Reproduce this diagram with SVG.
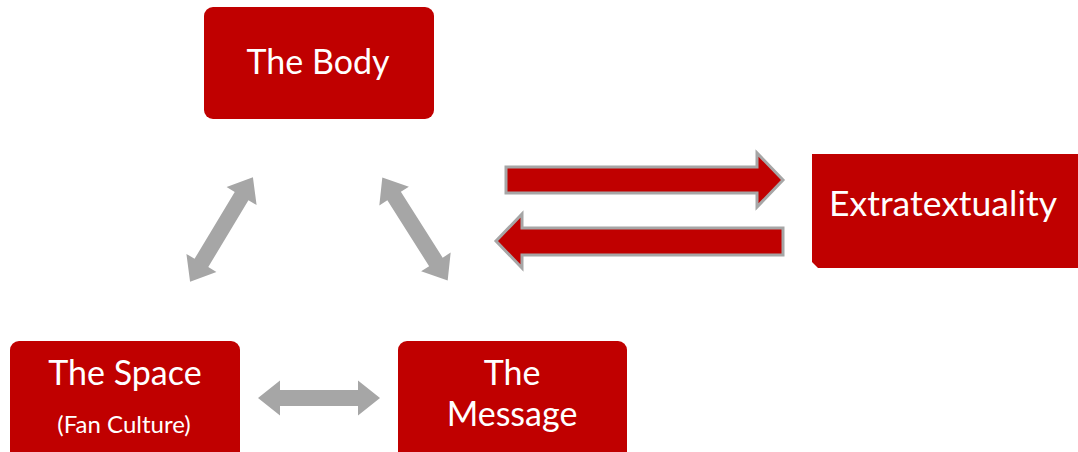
<svg xmlns="http://www.w3.org/2000/svg" width="1078" height="452" viewBox="0 0 1078 452">
<style>
.box{fill:#C00000}
.lbl{fill:#FFFFFF;font-family:Lato,"Liberation Sans",sans-serif;text-anchor:middle}
.big{font-size:34px}
.ext{font-size:35.5px}
.sm{font-size:24px}
.garrow{fill:#A6A6A6}
.rarrow{fill:#C00000;stroke:#A6A6A6;stroke-width:3;stroke-linejoin:miter}
</style>
<defs>
<path id="dbl" d="M-61 0 L-39 -17.5 L-39 -8 L39 -8 L39 -17.5 L61 0 L39 17.5 L39 8 L-39 8 L-39 17.5 Z"/>
</defs>
<rect width="1078" height="452" fill="#FFFFFF"/>
<g id="connectors">
<use href="#dbl" class="garrow" transform="translate(221.5 229.5) rotate(-59)"/>
<use href="#dbl" class="garrow" transform="translate(415 229) rotate(57.6)"/>
<use href="#dbl" class="garrow" transform="translate(319 398)"/>
<path class="rarrow" d="M506 167 L757 167 L757 153 L783 180 L757 207 L757 193 L506 193 Z"/>
<path class="rarrow" d="M783 228 L522 228 L522 214 L496 241 L522 268 L522 255 L783 255 Z"/>
</g>
<g id="body">
<rect class="box" x="204" y="7" width="230" height="112" rx="9"/>
<text class="lbl big" x="318" y="74">The Body</text>
</g>
<g id="extratextuality">
<path class="box" d="M812 154 H1082 V268 H818 L812 262 Z"/>
<text class="lbl ext" x="943" y="216">Extratextuality</text>
</g>
<g id="space">
<rect class="box" x="10" y="341" width="230" height="125" rx="9"/>
<text class="lbl big" x="125" y="385">The Space</text>
<text class="lbl sm" x="124" y="433">(Fan Culture)</text>
</g>
<g id="message">
<rect class="box" x="398" y="341" width="229" height="125" rx="9"/>
<text class="lbl big" x="512" y="385">The</text>
<text class="lbl big" x="512" y="426">Message</text>
</g>
</svg>
